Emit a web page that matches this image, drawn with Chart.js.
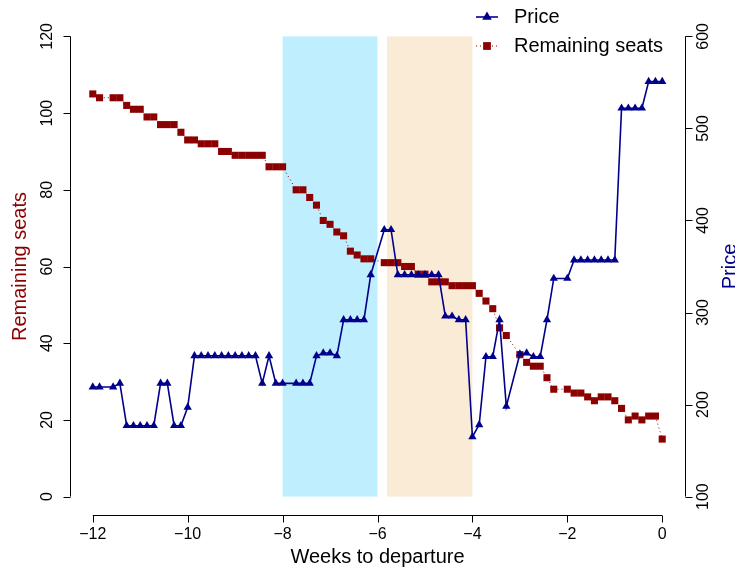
<!DOCTYPE html>
<html>
<head>
<meta charset="utf-8">
<script src="https://cdn.jsdelivr.net/npm/chart.js@4"></script>
<style>
  body { margin: 0; background: #fff; }
  #wrap { width: 735px; height: 567px; }
</style>
</head>
<body>
<div id="wrap"><canvas id="myChart" width="735" height="567"></canvas></div>
<script>
// days before departure (a few days have no observation)
var days = [-84,-83,-81,-80,-79,-78,-77,-76,-75,-74,-73,-72,-71,-70,-69,-68,-67,-66,-65,-64,
  -63,-62,-61,-60,-59,-58,-57,-56,-54,-53,-52,-51,-50,-49,-48,-47,-46,-45,-44,-43,
  -41,-40,-39,-38,-37,-36,-35,-34,-33,-32,-31,-30,-29,-28,-27,-26,-25,-24,-23,-21,
  -20,-19,-18,-17,-16,-14,-13,-12,-11,-10,-9,-8,-7,-6,-5,-4,-3,-2,-1,0];

var seats = [105,104,104,104,102,101,101,99,99,97,97,97,95,93,93,92,92,92,90,90,
  89,89,89,89,89,86,86,86,80,80,78,76,72,71,69,68,64,63,62,62,
  61,61,61,60,60,58,58,56,56,56,55,55,55,55,53,51,49,44,42,37,
  35,34,34,31,28,28,27,27,26,25,26,26,25,23,20,21,20,21,21,15];

var price = [219,219,219,223,177,177,177,177,177,223,223,177,177,197,253,253,253,253,253,253,
  253,253,253,253,223,253,223,223,223,223,223,253,256,256,253,292,292,292,292,341,
  390,390,341,341,341,341,341,341,341,296,296,292,292,165,178,252,252,292,198,255,
  256,252,252,292,337,337,357,357,357,357,357,357,357,522,522,522,522,551,551,551];

var weekTicks = [-12, -10, -8, -6, -4, -2, 0];
var seatTicks = [0, 20, 40, 60, 80, 100, 120];
var priceTicks = [100, 200, 300, 400, 500, 600];

// highlighted periods, in weeks
var blueBand = [-8, -6];
var tanBand = [-5.8, -4];

var RED = '#8B0000';
var NAVY = '#00008B';
var FONT = '"Liberation Sans", Arial, Helvetica, sans-serif';

function toPoints(vals) {
  return vals.map(function (v, i) { return { x: days[i] / 7, y: v }; });
}

function label(v) {
  return v < 0 ? '\u2212' + Math.abs(v) : String(v);
}

var bands = {
  id: 'bands',
  beforeDatasetsDraw: function (chart) {
    var c = chart.ctx, x = chart.scales.x, y = chart.scales.ySeats;
    var top = y.getPixelForValue(120), bot = y.getPixelForValue(0);
    c.save();
    c.fillStyle = '#BFEFFF';
    c.fillRect(x.getPixelForValue(blueBand[0]), top, x.getPixelForValue(blueBand[1]) - x.getPixelForValue(blueBand[0]), bot - top);
    c.fillStyle = '#FAEBD7';
    c.fillRect(x.getPixelForValue(tanBand[0]), top, x.getPixelForValue(tanBand[1]) - x.getPixelForValue(tanBand[0]), bot - top);
    c.restore();
  }
};

// base-graphics style axes, titles and legend
var axes = {
  id: 'axes',
  afterDraw: function (chart) {
    var c = chart.ctx, a = chart.chartArea;
    var x = chart.scales.x, yl = chart.scales.ySeats, yr = chart.scales.yPrice;
    c.save();
    c.strokeStyle = '#000';
    c.lineWidth = 1;
    c.fillStyle = '#000';

    // bottom axis
    var by = Math.round(a.bottom) + 0.5;
    c.beginPath();
    c.moveTo(x.getPixelForValue(weekTicks[0]), by);
    c.lineTo(x.getPixelForValue(weekTicks[weekTicks.length - 1]), by);
    weekTicks.forEach(function (t) {
      var px = Math.round(x.getPixelForValue(t)) + 0.5;
      c.moveTo(px, by); c.lineTo(px, by + 7);
    });
    c.stroke();
    c.font = '16px ' + FONT;
    c.textAlign = 'center';
    c.textBaseline = 'middle';
    weekTicks.forEach(function (t) {
      c.fillText(label(t), x.getPixelForValue(t), by + 19);
    });
    c.font = '20px ' + FONT;
    c.fillText('Weeks to departure', (a.left + a.right) / 2, by + 42);

    // left axis
    var lx = Math.round(a.left) + 0.5;
    c.beginPath();
    c.moveTo(lx, yl.getPixelForValue(seatTicks[0]));
    c.lineTo(lx, yl.getPixelForValue(seatTicks[seatTicks.length - 1]));
    seatTicks.forEach(function (t) {
      var py = Math.round(yl.getPixelForValue(t)) + 0.5;
      c.moveTo(lx, py); c.lineTo(lx - 7, py);
    });
    c.stroke();

    // right axis
    var rx = Math.round(a.right) + 0.5;
    c.beginPath();
    c.moveTo(rx, yr.getPixelForValue(priceTicks[0]));
    c.lineTo(rx, yr.getPixelForValue(priceTicks[priceTicks.length - 1]));
    priceTicks.forEach(function (t) {
      var py = Math.round(yr.getPixelForValue(t)) + 0.5;
      c.moveTo(rx, py); c.lineTo(rx + 7, py);
    });
    c.stroke();

    c.font = '16px ' + FONT;
    seatTicks.forEach(function (t) {
      c.save();
      c.translate(lx - 23, yl.getPixelForValue(t));
      c.rotate(-Math.PI / 2);
      c.fillText(label(t), 0, 0);
      c.restore();
    });
    priceTicks.forEach(function (t) {
      c.save();
      c.translate(rx + 18, yr.getPixelForValue(t));
      c.rotate(-Math.PI / 2);
      c.fillText(label(t), 0, 0);
      c.restore();
    });

    // axis titles
    var midY = (yl.getPixelForValue(0) + yl.getPixelForValue(120)) / 2;
    c.font = '20px ' + FONT;
    c.save();
    c.translate(lx - 50, midY);
    c.rotate(-Math.PI / 2);
    c.fillStyle = RED;
    c.fillText('Remaining seats', 0, 0);
    c.restore();
    c.save();
    c.translate(rx + 45, midY);
    c.rotate(-Math.PI / 2);
    c.fillStyle = NAVY;
    c.fillText('Price', 0, 0);
    c.restore();

    // legend
    var ly1 = 17, ly2 = 46, sx = 487;
    c.strokeStyle = NAVY;
    c.lineWidth = 1.6;
    c.beginPath();
    c.moveTo(sx - 11, ly1); c.lineTo(sx + 11, ly1);
    c.stroke();
    c.fillStyle = NAVY;
    Chart.helpers.drawPoint(c, { pointStyle: 'triangle', radius: 5.5, borderWidth: 0 }, sx, ly1);
    c.strokeStyle = RED;
    c.lineWidth = 1;
    c.setLineDash([1, 3]);
    c.beginPath();
    c.moveTo(sx - 11, ly2); c.lineTo(sx + 11, ly2);
    c.stroke();
    c.setLineDash([]);
    c.fillStyle = RED;
    Chart.helpers.drawPoint(c, { pointStyle: 'rect', radius: 5.5, borderWidth: 0 }, sx, ly2);
    c.fillStyle = '#000';
    c.textAlign = 'left';
    c.font = '20px ' + FONT;
    c.fillText('Price', sx + 27, ly1);
    c.fillText('Remaining seats', sx + 27, ly2);
    c.restore();
  }
};

var ctx = document.getElementById('myChart').getContext('2d');
var myChart = new Chart(ctx, {
  type: 'line',
  data: {
    datasets: [{
      label: 'Price',
      data: toPoints(price),
      yAxisID: 'yPrice',
      borderColor: NAVY,
      backgroundColor: NAVY,
      borderWidth: 1.6,
      pointStyle: 'triangle',
      pointRadius: 4.8,
      pointBorderWidth: 0,
      tension: 0,
      order: 1
    }, {
      label: 'Remaining seats',
      data: toPoints(seats),
      yAxisID: 'ySeats',
      borderColor: RED,
      backgroundColor: RED,
      borderWidth: 1,
      borderDash: [1, 3],
      pointStyle: 'rect',
      pointRadius: 5,
      pointBorderWidth: 0,
      tension: 0,
      order: 2
    }]
  },
  options: {
    responsive: false,
    animation: false,
    devicePixelRatio: 1,
    layout: { padding: { left: 70, right: 50, top: 18, bottom: 52 } },
    plugins: { legend: { display: false }, tooltip: { enabled: false } },
    scales: {
      x: { type: 'linear', min: -12.48, max: 0.48, display: false },
      ySeats: { type: 'linear', position: 'left', min: -4.8, max: 124.8, display: false },
      yPrice: { type: 'linear', position: 'right', min: 80, max: 620, display: false }
    }
  },
  plugins: [bands, axes]
});
</script>
</body>
</html>
